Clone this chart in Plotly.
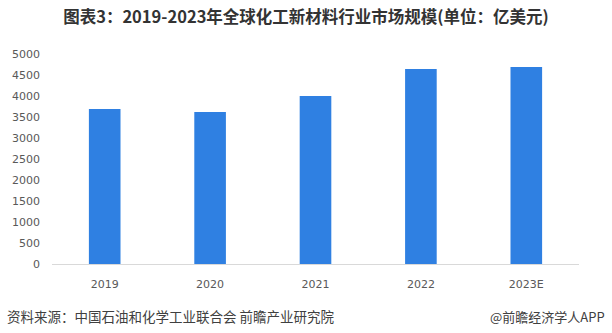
import plotly.graph_objects as go

categories = ["2019", "2020", "2021", "2022", "2023E"]
values = [3690, 3620, 4000, 4640, 4690]
y_ticks = [0, 500, 1000, 1500, 2000, 2500, 3000, 3500, 4000, 4500, 5000]

title_text = "图表3：2019-2023年全球化工新材料行业市场规模(单位：亿美元)"
source_text = "资料来源：中国石油和化学工业联合会 前瞻产业研究院"
brand_text = "@前瞻经济学人APP"

W, H = 612, 333
fig = go.Figure(go.Bar(
    x=categories, y=values,
    marker=dict(color="#2F80E2", line=dict(width=0)),
    width=0.3,
))

fig.update_layout(
    width=W, height=H,
    margin=dict(l=47, r=33, t=54, b=69),
    paper_bgcolor="white", plot_bgcolor="white",
    showlegend=False,
    font=dict(family="Noto Sans CJK SC, sans-serif", color="#595959", size=11),
    title=dict(text="<b>" + title_text + "</b>", x=0.5, xanchor="center",
               y=1 - 17 / H, yanchor="middle",
               font=dict(size=16.5, color="#333333", family="Noto Sans CJK SC, sans-serif")),
    xaxis=dict(
        showline=True, linecolor="#d9d9d9", linewidth=1,
        ticks="", ticklabelstandoff=10,
        tickfont=dict(size=11, color="#595959", family="DejaVu Sans, sans-serif"),
        showgrid=False, range=[-0.5, 4.5],
    ),
    yaxis=dict(
        range=[0, 5000], tickvals=y_ticks, showgrid=False, zeroline=False,
        showline=False, ticks="", ticklabelstandoff=11,
        tickfont=dict(size=11, color="#595959", family="DejaVu Sans, sans-serif"),
    ),
    annotations=[
        dict(text=source_text, xref="paper", yref="paper", x=-47 / 532, y=-(316 - 264) / 210,
             xanchor="left", yanchor="middle", showarrow=False,
             font=dict(size=13.5, color="#404040", family="Noto Sans CJK SC, sans-serif")),
        dict(text=brand_text, xref="paper", yref="paper", x=(607 - 47) / 532, y=-(316 - 264) / 210,
             xanchor="right", yanchor="middle", showarrow=False,
             font=dict(size=13, color="#404040", family="Noto Sans CJK SC, sans-serif")),
    ],
)

fig.write_html("out.html")
